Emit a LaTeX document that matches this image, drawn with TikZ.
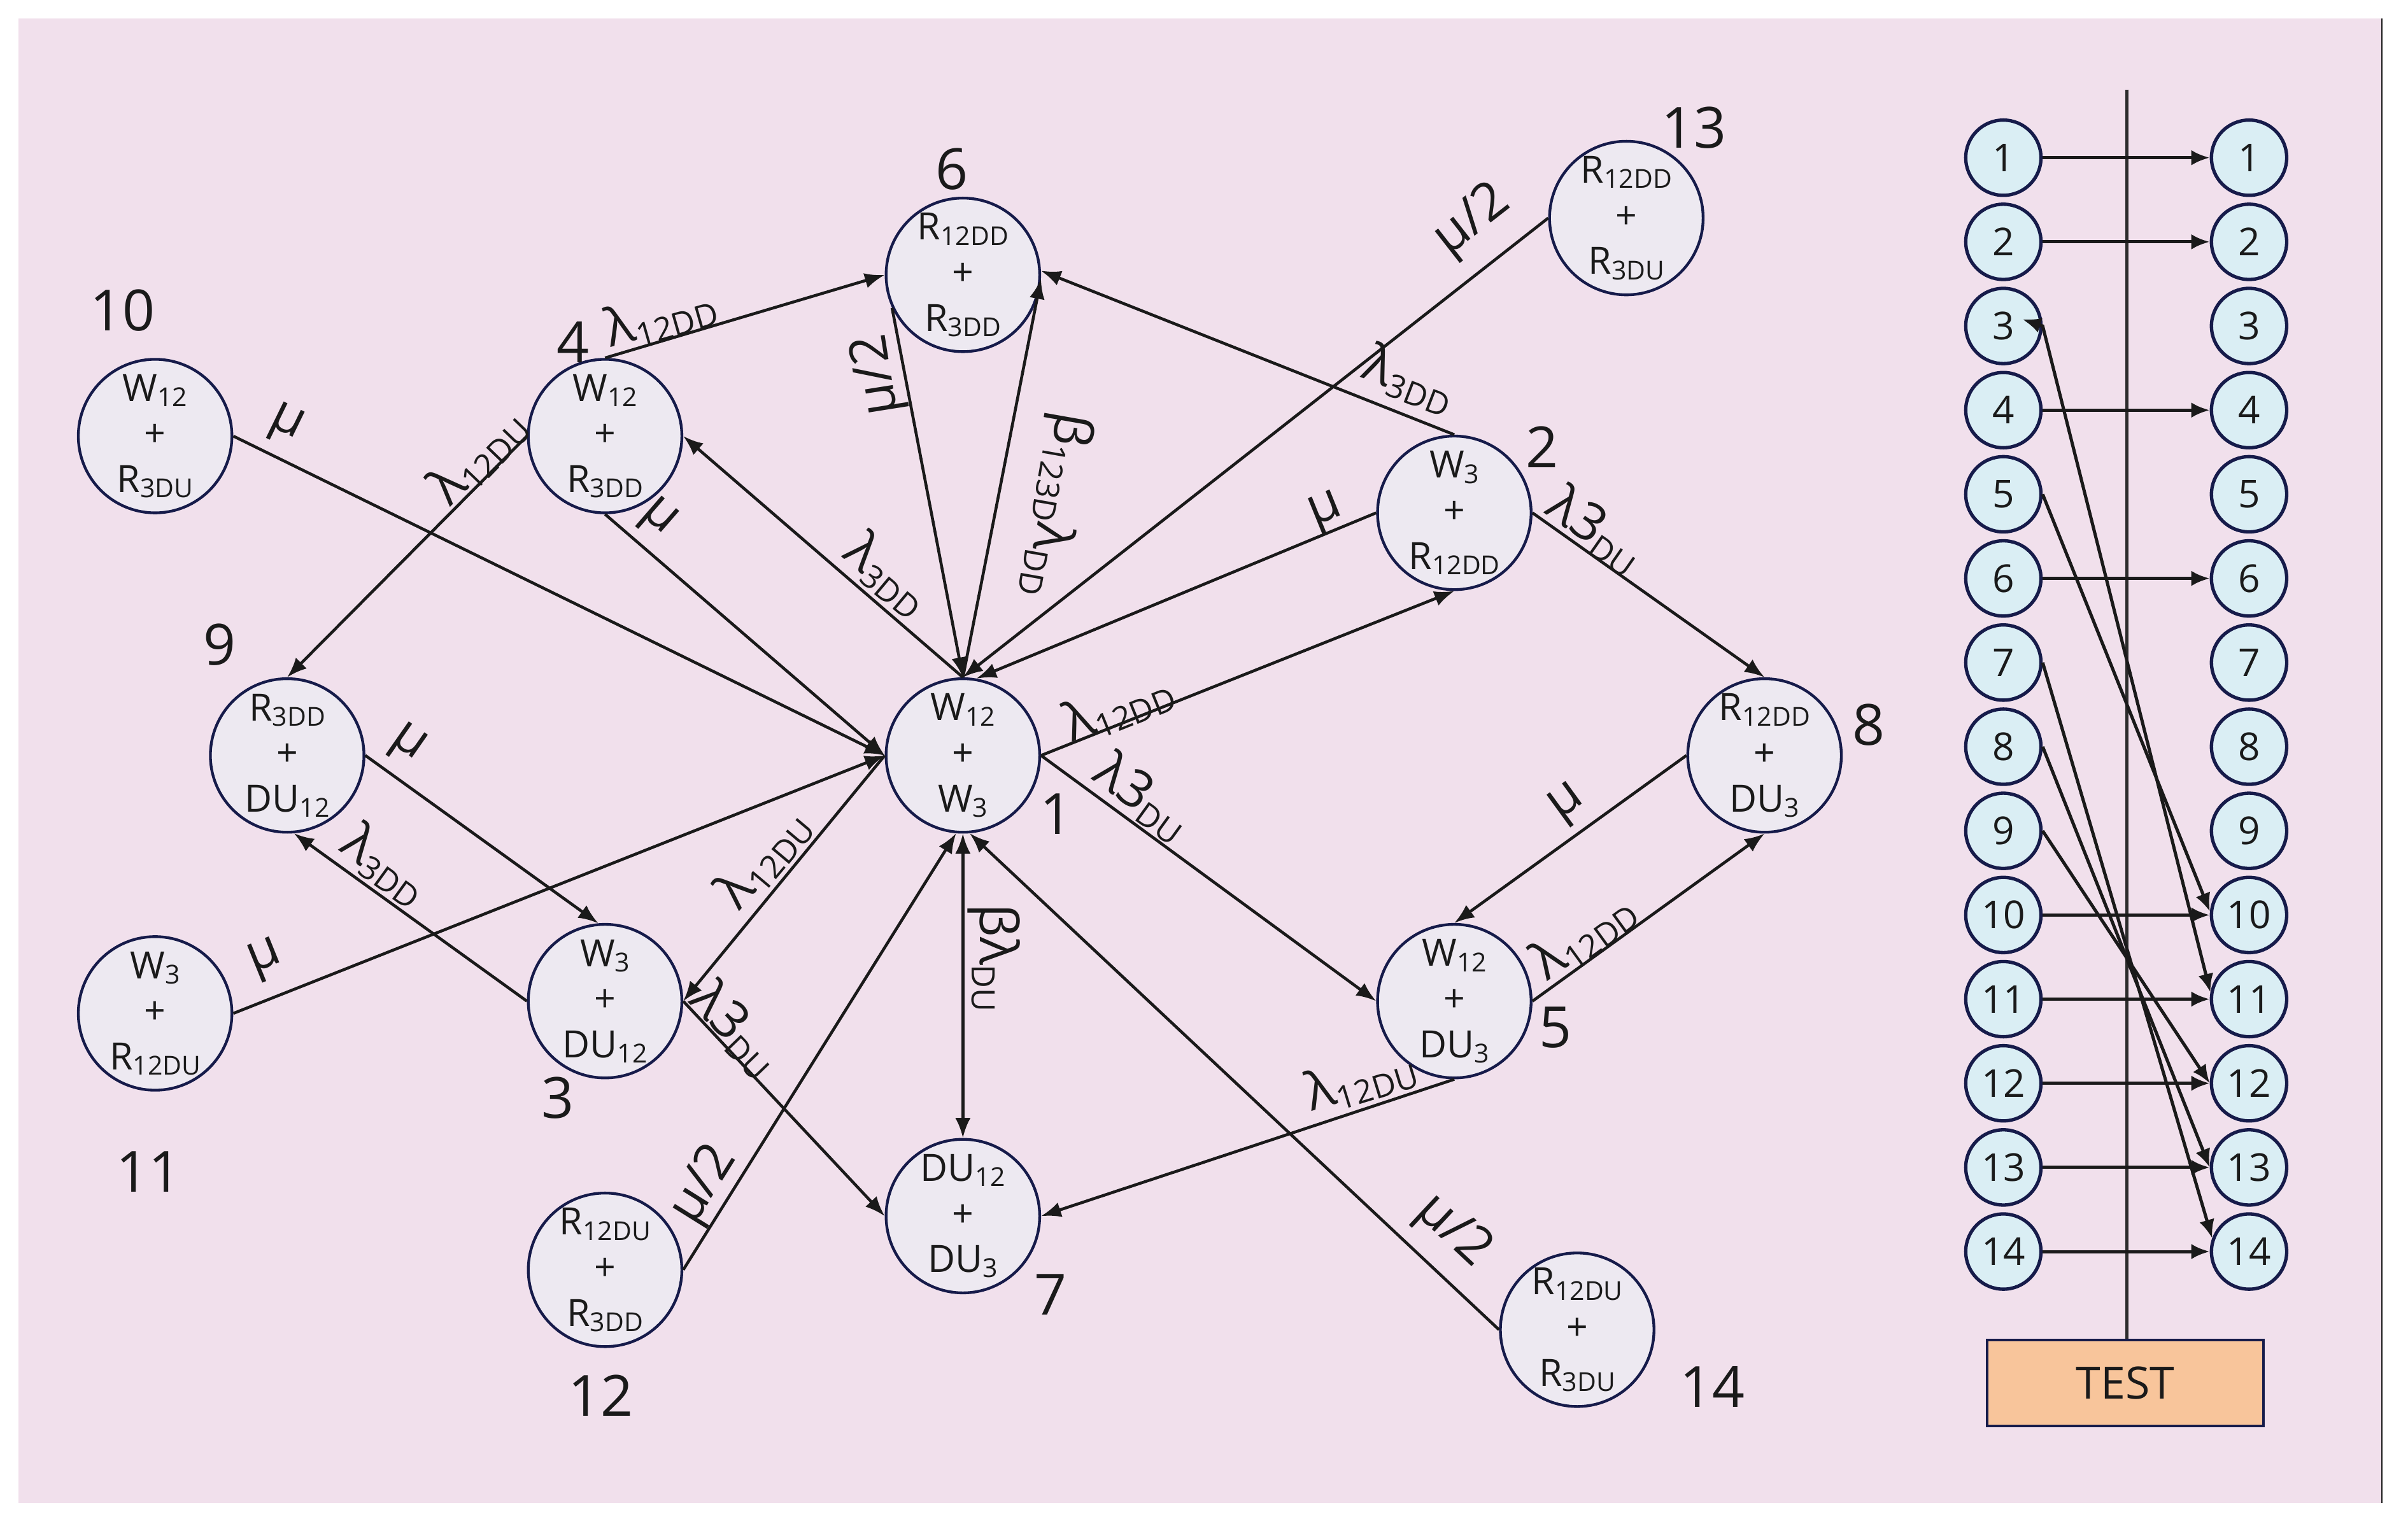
\documentclass[tikz,border=0pt]{standalone}
\usepackage{fontspec}
\setmainfont{Open Sans}
\usetikzlibrary{arrows.meta}
\definecolor{bgpink}{HTML}{F1E0EC}
\definecolor{cfill}{HTML}{EDE9F1}
\definecolor{bfill}{HTML}{DAEEF4}
\definecolor{navy}{HTML}{161B4A}
\definecolor{ink}{HTML}{1A1A1A}
\definecolor{peach}{HTML}{F8C59B}
\definecolor{vline}{HTML}{2B2B2B}
\newcommand\nsb[1]{\raisebox{-3.4pt}{\fontsize{17}{17}\selectfont #1}}
\newcommand\esb[1]{\raisebox{-5pt}{\fontsize{21}{21}\selectfont #1}}
\begin{document}
\begin{tikzpicture}[x=1pt,y=-1pt,
  st/.style={circle,draw=navy,line width=1.8pt,fill=cfill,minimum size=100pt,inner sep=0pt,align=center,text=ink,font=\fontsize{24.5}{29.7}\selectfont},
  num/.style={text=ink,inner sep=0pt,font=\fontsize{37}{37}\selectfont},
  elab/.style={text=ink,inner sep=0pt,font=\fontsize{34}{34}\selectfont},
  edge/.style={draw=ink,line width=1.9pt,-{Latex[length=13pt,width=10pt]}},
  edgeboth/.style={draw=ink,line width=1.9pt,{Latex[length=13pt,width=10pt]}-{Latex[length=13pt,width=10pt]}},
  bn/.style={circle,draw=navy,line width=2.2pt,fill=bfill,minimum size=49pt,inner sep=0pt,text=ink,font=\fontsize{25}{25}\selectfont},
  rarr/.style={draw=ink,line width=2.1pt,-{Latex[length=12pt,width=10pt]}},
  rboth/.style={draw=ink,line width=2.1pt,{Latex[length=12pt,width=10pt]}-{Latex[length=12pt,width=10pt]}},
]
\useasboundingbox (0,0) rectangle (1568,997);
\fill[white] (0,0) rectangle (1568,997);
\fill[bgpink] (12,12) rectangle (1551,979);
\draw[ink,line width=1pt] (1551,12) -- (1551,979);

% main states
\node[st] (s1) at (627,492) {W\nsb{12}\\+\\W\nsb{3}};
\node[st] (s2) at (947,334) {W\nsb{3}\\+\\R\nsb{12DD}};
\node[st] (s3) at (394,652) {W\nsb{3}\\+\\DU\nsb{12}};
\node[st] (s4) at (394,284) {W\nsb{12}\\+\\R\nsb{3DD}};
\node[st] (s5) at (947,652) {W\nsb{12}\\+\\DU\nsb{3}};
\node[st] (s6) at (627,179) {R\nsb{12DD}\\+\\R\nsb{3DD}};
\node[st] (s7) at (627,792) {DU\nsb{12}\\+\\DU\nsb{3}};
\node[st] (s8) at (1149,492) {R\nsb{12DD}\\+\\DU\nsb{3}};
\node[st] (s9) at (187,492) {R\nsb{3DD}\\+\\DU\nsb{12}};
\node[st] (s10) at (101,284) {W\nsb{12}\\+\\R\nsb{3DU}};
\node[st] (s11) at (101,660) {W\nsb{3}\\+\\R\nsb{12DU}};
\node[st] (s12) at (394,827) {R\nsb{12DU}\\+\\R\nsb{3DD}};
\node[st] (s13) at (1059,142) {R\nsb{12DD}\\+\\R\nsb{3DU}};
\node[st] (s14) at (1027,866) {R\nsb{12DU}\\+\\R\nsb{3DU}};

% state numbers
\node[num] (n1) at (688,530) {1};
\node[num] (n2) at (1004,291) {2};
\node[num] (n3) at (363,715) {3};
\node[num] (n4) at (373,223) {4};
\node[num] (n5) at (1013,669) {5};
\node[num] (n6) at (620,110) {6};
\node[num] (n7) at (684,843) {7};
\node[num] (n8) at (1217,472) {8};
\node[num] (n9) at (143,420) {9};
\node[num] (n10) at (80,202) {10};
\node[num] (n11) at (97,763) {11};
\node[num] (n12) at (391,909) {12};
\node[num] (n13) at (1103,83) {13};
\node[num] (n14) at (1115,903) {14};

% transitions
\draw[edge] (s4.north) -- (s6.west);
\draw[edge] (s4.west) -- (s9.north);
\draw[edge] (s10.east) -- (s1.west);
\draw[edge] (s4.south) -- (s1.west);
\draw[edge] (s1.north) -- (s4.east);
\draw[edge] (s6.205) -- (s1.north);
\draw[edge] (s1.north) -- (s6.-3);
\draw[edge] (s2.north) -- (s6.3);
\draw[edge] (s13.west) -- (s1.north);
\draw[edge] (s2.west) -- (s1.80);
\draw[edge] (s1.east) -- (s2.south);
\draw[edge] (s1.east) -- (s5.west);
\draw[edge] (s2.east) -- (s8.north);
\draw[edge] (s8.west) -- (s5.north);
\draw[edge] (s5.east) -- (s8.south);
\draw[edge] (s5.south) -- (s7.east);
\draw[edgeboth] (s1.south) -- (s7.north);
\draw[edge] (s12.east) -- (s1.-95);
\draw[edge] (s14.west) -- (s1.-85);
\draw[edge] (s1.west) -- (s3.east);
\draw[edge] (s11.east) -- (s1.west);
\draw[edge] (s9.east) -- (s3.95);
\draw[edge] (s3.west) -- (s9.-85);
\draw[edge] (s3.east) -- (s7.west);

% transition labels
\node[elab,rotate=16] (l1) at (430,206) {λ\esb{12DD}};
\node[elab,rotate=46] (l2) at (311,297) {λ\esb{12DU}};
\node[elab,rotate=-26] (l3) at (186,277) {μ};
\node[elab,rotate=-41] (l4) at (428,338) {μ};
\node[elab,rotate=-40] (l5) at (578,374) {λ\esb{3DD}};
\node[elab,rotate=99] (l6) at (572,244) {μ/2};
\node[elab,rotate=-100] (l7) at (687,329) {β\esb{123D}λ\esb{DD}};
\node[elab,rotate=-21] (l8) at (918,247) {λ\esb{3DD}};
\node[elab,rotate=38] (l9) at (959,144) {μ/2};
\node[elab,rotate=22] (l10) at (864,334) {μ};
\node[elab,rotate=22] (l11) at (728,460) {λ\esb{12DD}};
\node[elab,rotate=-36] (l12) at (744,519) {λ3\esb{DU}};
\node[elab,rotate=-35] (l13) at (1039,345) {λ3\esb{DU}};
\node[elab,rotate=36] (l14) at (1021,524) {μ};
\node[elab,rotate=36] (l15) at (1031,609) {λ\esb{12DD}};
\node[elab,rotate=17] (l16) at (886,703) {λ\esb{12DU}};
\node[elab,rotate=-90] (l17) at (647,624) {βλ\esb{DU}};
\node[elab,rotate=58] (l18) at (459,772) {μ/2};
\node[elab,rotate=-43] (l19) at (946,802) {μ/2};
\node[elab,rotate=50] (l20) at (497,559) {λ\esb{12DU}};
\node[elab,rotate=22] (l21) at (173,625) {μ};
\node[elab,rotate=-35] (l22) at (265,485) {μ};
\node[elab,rotate=-36] (l23) at (251,563) {λ\esb{3DD}};
\node[elab,rotate=-46] (l24) at (479,670) {λ3\esb{DU}};

% test panel
\node[draw=navy,fill=peach,line width=1.8pt,minimum width=180pt,minimum height=56pt,inner sep=0pt,text=ink,font=\fontsize{29}{29}\selectfont] (test) at (1384,900.7) {TEST};
\coordinate (ttop) at (1385,58.3);
\draw[vline,line width=2.3pt] (ttop) -- (ttop |- test.north);
\foreach \k in {1,...,14}{
  \node[bn] (L\k) at (1304.5,{102.7+(\k-1)*54.8}) {\k};
  \node[bn] (R\k) at (1464.5,{102.7+(\k-1)*54.8}) {\k};
}
\foreach \k in {1,2,4,6,10,11,12,13,14}{
  \draw[rarr] (L\k.east) -- (R\k.west);
}
\coordinate (c3tip) at (1317,208);
\draw[rboth] (R11.170) -- (L3.east) -- (c3tip);
\draw[rarr] (L5.east) -- (R10.175);
\draw[rarr] (L7.east) -- (R14.160);
\draw[rarr] (L8.east) -- (R13.west);
\draw[rarr] (L9.east) -- (R12.west);
\end{tikzpicture}
\end{document}
